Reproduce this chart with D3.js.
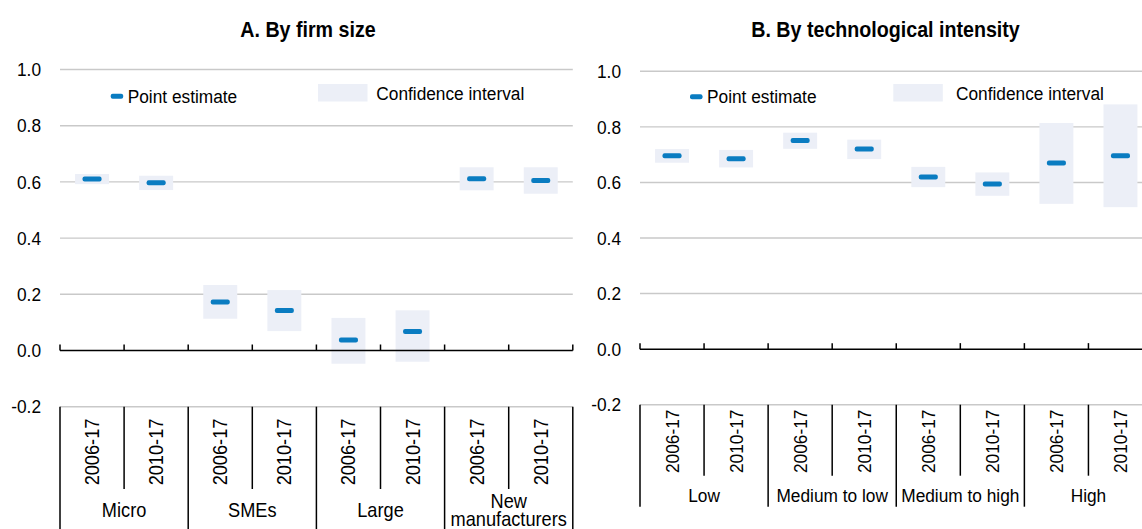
<!DOCTYPE html>
<html>
<head>
<meta charset="utf-8">
<script src="https://cdn.jsdelivr.net/npm/d3@7"></script>
<style>
  body { margin: 0; background: #fff; }
  svg { display: block; font-family: "Liberation Sans", Arial, sans-serif; }
</style>
</head>
<body>
<svg id="chart" width="1142" height="529"></svg>
<script>
// data
var periods = ["2006-17", "2010-17"];
var yTicks = [-0.2, 0, 0.2, 0.4, 0.6, 0.8, 1.0];

var sizeGroups = ["Micro", "SMEs", "Large", "New manufacturers"];
var sizePoint = [0.610, 0.597, 0.173, 0.142, 0.037, 0.068, 0.611, 0.605];
var sizeLow   = [0.592, 0.571, 0.113, 0.069, -0.047, -0.040, 0.570, 0.558];
var sizeHigh  = [0.628, 0.622, 0.233, 0.215, 0.116, 0.143, 0.652, 0.652];

var techGroups = ["Low", "Medium to low", "Medium to high", "High"];
var techPoint = [0.696, 0.685, 0.751, 0.720, 0.620, 0.594, 0.670, 0.696];
var techLow   = [0.671, 0.654, 0.721, 0.684, 0.583, 0.552, 0.523, 0.511];
var techHigh  = [0.720, 0.717, 0.779, 0.754, 0.656, 0.636, 0.814, 0.881];

var blue = "#0a7cc1", ciFill = "#eceff7", grid = "#c9c9c9";
var narrow = 0.91; // squeeze to look like Arial Narrow
var svg = d3.select("#chart");

// text squeezed horizontally (along its own direction)
function label(g, x, y, str, size, anchor, rot) {
    return g.append("text")
        .attr("transform", "translate(" + x + "," + y + ")" + (rot ? " rotate(" + rot + ")" : "") + " scale(" + narrow + ",1)")
        .attr("text-anchor", anchor || "start")
        .style("font-size", size + "px")
        .text(str);
}

function drawPanel(p) {
    var g = svg.append("g");
    var n = p.groups.length * periods.length;
    var x = d3.scaleBand().domain(d3.range(n)).range([p.x0, p.x1]);
    var y = d3.scaleLinear().domain([-0.2, 1.0]).range([p.yBottom, p.yTop]);
    var bw = x.bandwidth();

    label(g, p.titleX, 37, p.title, 21.6, "middle").style("font-weight", "bold");

    // gridlines (not at zero)
    g.selectAll(".grid").data(yTicks.filter(function (t) { return t !== 0; }))
        .enter().append("line")
        .attr("x1", p.x0).attr("x2", p.x1)
        .attr("y1", function (d) { return y(d); }).attr("y2", function (d) { return y(d); })
        .attr("stroke", grid).attr("stroke-width", 1.4);

    yTicks.forEach(function (t) {
        label(g, p.x0 - 19, y(t), d3.format(".1f")(t).replace("\u2212", "-"), 19, "end")
            .attr("dy", "0.35em");
    });

    // confidence intervals
    var ciW = bw * 0.53;
    g.selectAll(".ci").data(d3.range(n)).enter().append("rect")
        .attr("x", function (i) { return x(i) + (bw - ciW) / 2; })
        .attr("width", ciW)
        .attr("y", function (i) { return y(p.high[i]); })
        .attr("height", function (i) { return y(p.low[i]) - y(p.high[i]); })
        .attr("fill", ciFill);

    // point estimates
    g.selectAll(".pt").data(d3.range(n)).enter().append("rect")
        .attr("x", function (i) { return x(i) + bw / 2 - 9.5; })
        .attr("width", 19)
        .attr("y", function (i) { return y(p.point[i]) - 2.5; })
        .attr("height", 5).attr("rx", 2)
        .attr("fill", blue);

    // zero axis with ticks up
    g.append("line")
        .attr("x1", p.x0).attr("x2", p.x1)
        .attr("y1", y(0)).attr("y2", y(0))
        .attr("stroke", "#000").attr("stroke-width", 1.5);
    g.selectAll(".tick").data(d3.range(n + 1)).enter().append("line")
        .attr("x1", function (i) { return p.x0 + i * bw; })
        .attr("x2", function (i) { return p.x0 + i * bw; })
        .attr("y1", y(0)).attr("y2", y(0) - 6)
        .attr("stroke", "#000").attr("stroke-width", 1.5);

    // category separators
    g.selectAll(".sep").data(d3.range(n + 1)).enter().append("line")
        .attr("x1", function (i) { return p.x0 + i * bw; })
        .attr("x2", function (i) { return p.x0 + i * bw; })
        .attr("y1", y(-0.2))
        .attr("y2", function (i) { return i % periods.length === 0 ? p.longEnd : p.shortEnd; })
        .attr("stroke", "#000").attr("stroke-width", 1.5);

    d3.range(n).forEach(function (i) {
        label(g, x(i) + bw / 2, p.perY, periods[i % periods.length], p.perSize, "middle", -90)
            .attr("dy", "0.35em");
    });

    var gw = bw * periods.length;
    p.groups.forEach(function (name, k) {
        var words = name === "New manufacturers" ? ["New", "manufacturers"] : [name];
        var cx = p.x0 + k * gw + gw / 2;
        words.forEach(function (w, j) {
            label(g, cx, p.groupY - (words.length - 1) * p.lineH / 2 + j * p.lineH, w, p.perSize, "middle");
        });
    });

    // legend
    var L = p.legend;
    g.append("rect").attr("x", L.mx).attr("y", L.my - 2.5)
        .attr("width", 12.5).attr("height", 5).attr("rx", 2).attr("fill", blue);
    label(g, L.mx + 17, L.my + 6.3, "Point estimate", 19);
    g.append("rect").attr("x", L.bx).attr("y", 84)
        .attr("width", 49.5).attr("height", 17.5).attr("fill", ciFill);
    label(g, L.tx, 100, "Confidence interval", 19);
}

drawPanel({
    title: "A. By firm size", titleX: 308,
    groups: sizeGroups, point: sizePoint, low: sizeLow, high: sizeHigh,
    x0: 60, x1: 572.8, yTop: 69.5, yBottom: 406.7,
    shortEnd: 489, longEnd: 540, perY: 452, perSize: 20,
    groupY: 517, lineH: 17.5,
    legend: { mx: 110.7, my: 96.3, bx: 318, tx: 376.3 }
});

drawPanel({
    title: "B. By technological intensity", titleX: 885.5,
    groups: techGroups, point: techPoint, low: techLow, high: techHigh,
    x0: 640, x1: 1152.5, yTop: 71.3, yBottom: 404.7,
    shortEnd: 475.7, longEnd: 506.7, perY: 441.3, perSize: 19,
    groupY: 501.7, lineH: 17,
    legend: { mx: 690, my: 96.7, bx: 893.3, tx: 956 }
});
</script>
</body>
</html>
